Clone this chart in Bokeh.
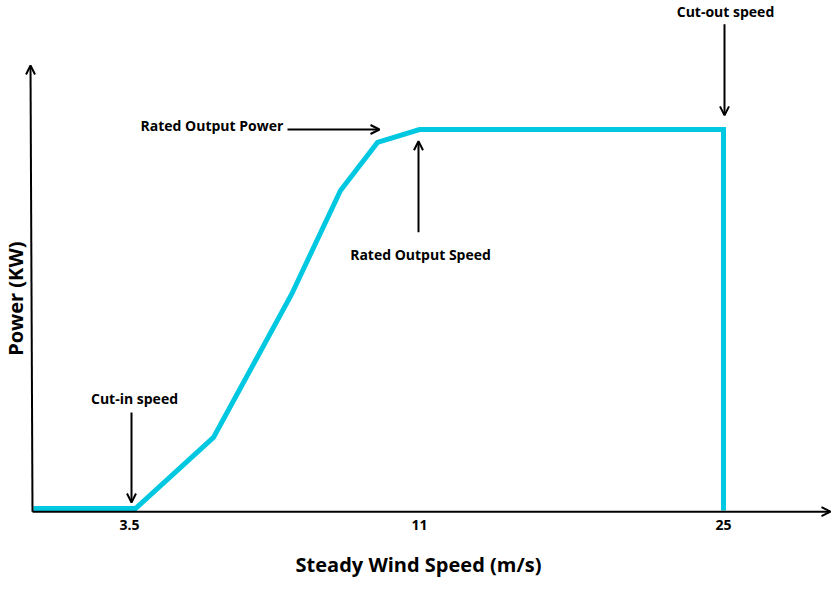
from bokeh.plotting import figure
from bokeh.models import Range1d, Arrow, OpenHead, ColumnDataSource
from bokeh.core.properties import value
from bokeh.embed import file_html
from bokeh.resources import INLINE
import math

# Diagram data (x = horizontal position on the diagram axis, y = power in % of rated output)
curve_x = [33, 135, 213, 291, 340, 377, 419, 723, 723]
curve_power = [0.5, 0.5, 19.2, 56.7, 84.0, 96.6, 100, 100, 0]

tick_pos = [129, 419, 723]
tick_labels = ["3.5", "11", "25"]

FONT = value("Open Sans")
CYAN = "#00c8e0"

p = figure(width=831, height=594, output_backend="svg", toolbar_location=None,
           x_range=Range1d(0, 831), y_range=Range1d(-22.05, 133.86),
           x_axis_location=None, y_axis_location=None, min_border=0)
p.outline_line_color = None
p.xgrid.visible = False
p.ygrid.visible = False
p.background_fill_color = "white"

# Axes drawn as arrows
p.add_layout(Arrow(end=OpenHead(size=9, line_width=2, line_color="black"),
                   x_start=32, y_start=-0.3, x_end=830, y_end=-0.3,
                   line_width=2, line_color="black"))
p.add_layout(Arrow(end=OpenHead(size=9, line_width=2, line_color="black"),
                   x_start=32, y_start=-0.3, x_end=30, y_end=116.8,
                   line_width=2, line_color="black"))

# Power curve
p.line(curve_x, curve_power, line_width=5, line_color=CYAN, line_join="miter")

# Tick labels
p.text(x=tick_pos, y=[-3.9] * 3, text=tick_labels, text_font=FONT,
       text_font_style="bold", text_font_size="14px", text_align="center",
       text_baseline="middle", text_color="black")

# Axis titles
p.text(x=[418], y=[-14.2], text=["Steady Wind Speed (m/s)"], text_font=FONT,
       text_font_style="bold", text_font_size="20px", text_align="center",
       text_baseline="middle", text_color="black")
p.text(x=[15], y=[55.6], text=["Power (KW)"], angle=math.pi / 2, text_font=FONT,
       text_font_style="bold", text_font_size="20px", text_align="center",
       text_baseline="middle", text_color="black")

# Annotations
ann = ColumnDataSource(dict(
    x=[134, 140, 420, 725],
    y=[29.4, 101.0, 67.2, 131.0],
    t=["Cut-in speed", "Rated Output Power", "Rated Output Speed", "Cut-out speed"],
    a=["center", "left", "center", "center"],
))
p.text(x="x", y="y", text="t", text_align="a", source=ann, text_font=FONT,
       text_font_style="bold", text_font_size="14px", text_baseline="middle",
       text_color="black")

arrows = [
    (131, 25.7, 131, 2.1),
    (287, 100.0, 379, 100.0),
    (418, 73.0, 418, 96.9),
    (724, 127.6, 724, 103.7),
]
for xs, ys, xe, ye in arrows:
    p.add_layout(Arrow(end=OpenHead(size=9, line_width=2, line_color="black"),
                       x_start=xs, y_start=ys, x_end=xe, y_end=ye,
                       line_width=2, line_color="black"))

open("out.html", "w").write(file_html(p, INLINE))
